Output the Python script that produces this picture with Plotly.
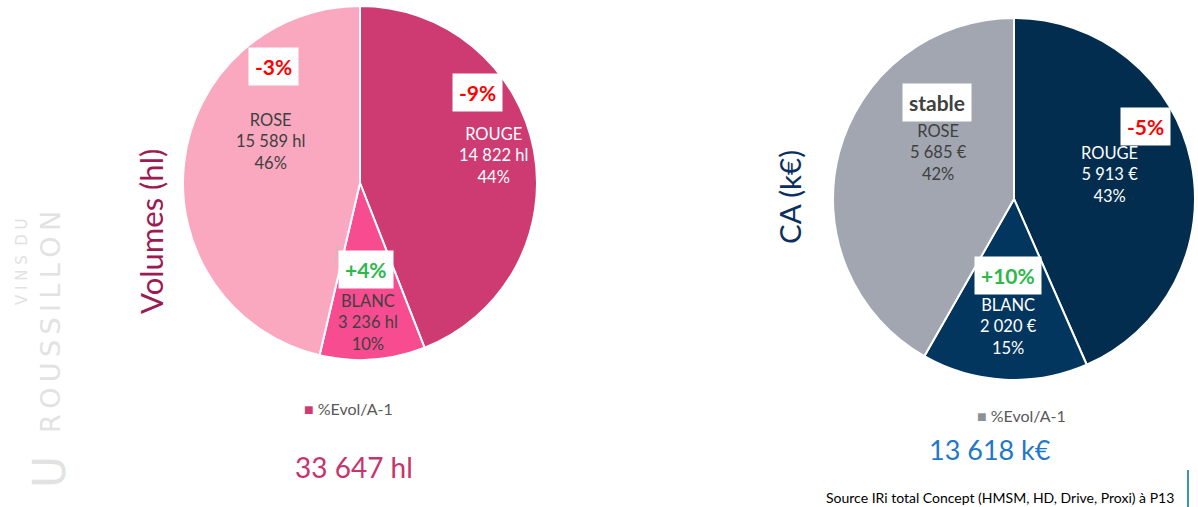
import plotly.graph_objects as go

W, H = 1198, 507

categories = ["ROUGE", "BLANC", "ROSE"]
volumes_hl = [14822, 3236, 15589]
ca_keur = [5913, 2020, 5685]
evol_volumes = ["-9%", "+4%", "-3%"]
evol_ca = ["-5%", "+10%", "stable"]

vol_colors = ["#CE3B72", "#F74C90", "#F9A8BF"]
ca_colors = ["#022D4E", "#03365F", "#A2A6B0"]
vol_text_colors = ["#FFFFFF", "#404040", "#404040"]
ca_text_colors = ["#FFFFFF", "#FFFFFF", "#404040"]

FONT = "Lato"


def fmt(n):
    return f"{n:,}".replace(",", " ")


def px(x):
    return x / W


def py(y):
    return 1 - y / H


def note(x, y, text, size, color, family=FONT, **kw):
    d = dict(x=px(x), y=py(y), xref="paper", yref="paper", showarrow=False,
             xanchor="center", yanchor="middle", text=text,
             font=dict(family=family, size=size, color=color))
    d.update(kw)
    return d


fig = go.Figure()

fig.add_trace(go.Pie(
    labels=categories, values=volumes_hl, sort=False, direction="clockwise",
    rotation=0, marker=dict(colors=vol_colors, line=dict(color="white", width=2)),
    textinfo="none", hoverinfo="label+value+percent", showlegend=False,
    domain=dict(x=[px(183), px(537)], y=[py(360), py(6)]),
))
fig.add_trace(go.Pie(
    labels=categories, values=ca_keur, sort=False, direction="clockwise",
    rotation=0, marker=dict(colors=ca_colors, line=dict(color="white", width=2)),
    textinfo="none", hoverinfo="label+value+percent", showlegend=False,
    domain=dict(x=[px(833), px(1195)], y=[py(380), py(18)]),
))

ann = []

# slice labels
vol_label_pos = [(493, 155), (368, 322), (270, 141)]
ca_label_pos = [(1109, 174), (1008, 326), (938, 152)]
tot_v = sum(volumes_hl)
tot_c = sum(ca_keur)
for i, c in enumerate(categories):
    x, y = vol_label_pos[i]
    ann.append(note(x, y,
                    f"{c}<br>{fmt(volumes_hl[i])} hl<br>{round(volumes_hl[i] / tot_v * 100)}%",
                    16.5, vol_text_colors[i]))
    x, y = ca_label_pos[i]
    ann.append(note(x, y,
                    f"{c}<br>{fmt(ca_keur[i])} €<br>{round(ca_keur[i] / tot_c * 100)}%",
                    16.5, ca_text_colors[i]))


def evol_color(s):
    if s.startswith("-"):
        return "#FF0000"
    if s.startswith("+"):
        return "#2DB84B"
    return "#404040"


vol_evol_pos = [(477, 92), (366, 269), (273, 66)]
ca_evol_pos = [(1145, 127), (1008, 275), (937, 102)]
for i in range(3):
    x, y = vol_evol_pos[i]
    ann.append(note(x, y, f"<b>{evol_volumes[i]}</b>", 21, evol_color(evol_volumes[i]),
                    bgcolor="white", borderpad=6))
    x, y = ca_evol_pos[i]
    ann.append(note(x, y, f"<b>{evol_ca[i]}</b>", 21, evol_color(evol_ca[i]),
                    bgcolor="white", borderpad=6))

# vertical titles
ann.append(note(151, 232, "Volumes (hl)", 31, "#9B1B52", textangle=-90))
ann.append(note(789, 197, "CA (k€)", 29.5, "#0B2F5E", textangle=-90))

# legends
ann.append(note(302, 408, "<span style='color:#CE3B72'>■</span> %Evol/A-1", 16, "#595959",
                xanchor="left"))
ann.append(note(975, 415, "<span style='color:#8C9099'>■</span> %Evol/A-1", 16, "#595959",
                xanchor="left"))

# totals
ann.append(note(354, 467, f"{fmt(tot_v)} hl", 28, "#C8336C"))
ann.append(note(990, 449, f"{fmt(tot_c)} k€", 27, "#1F78C8"))

# source
ann.append(note(1176, 497, "Source IRi total Concept (HMSM, HD, Drive, Proxi) à P13", 14,
                "#000000", xanchor="right"))

# watermark
ann.append(note(22, 262, "V I N S  D U", 15, "#E2E2E2", family="DejaVu Sans", textangle=-90))
ann.append(note(50, 322, "R\u2009O\u2009U\u2009S\u2009S\u2009I\u2009L\u2009L\u2009O\u2009N", 27,
                "#E2E2E2", family="DejaVu Sans", textangle=-90))
ann.append(note(49, 472, "U", 44, "#E2E2E2", family="DejaVu Sans", textangle=-90))

shapes = [
    dict(type="line", xref="paper", yref="paper", x0=px(1188), x1=px(1188),
         y0=py(470), y1=py(507), line=dict(color="#3A9AA0", width=2)),
    dict(type="path", xref="paper", yref="paper",
         path=f"M {px(338)} {py(244)} L {px(335)} {py(262)} L {px(341)} {py(262)}",
         line=dict(color="#BFBFBF", width=1)),
]

fig.update_layout(
    width=W, height=H, margin=dict(l=0, r=0, t=0, b=0),
    paper_bgcolor="white", plot_bgcolor="white",
    annotations=ann, shapes=shapes, showlegend=False,
    font=dict(family=FONT),
)

fig.write_html("out.html", config={"displayModeBar": False},
               post_script="document.body.style.margin='0';")
